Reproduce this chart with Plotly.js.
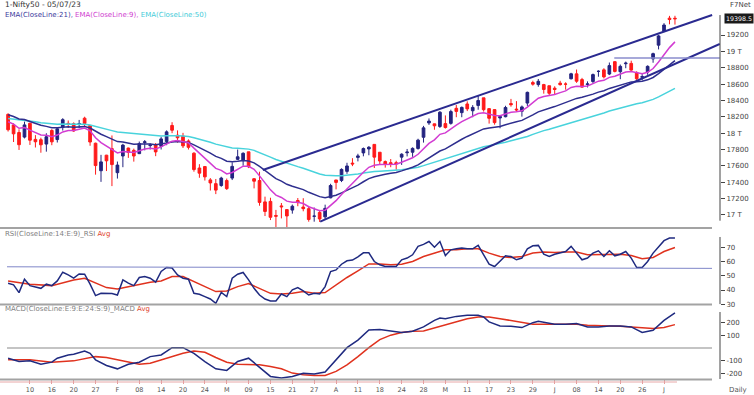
<!DOCTYPE html>
<html>
<head>
<meta charset="utf-8">
<script src="https://cdn.plot.ly/plotly-3.0.1.min.js"></script>
<style>
html,body{margin:0;padding:0;background:#fff;}
#chart{width:754px;height:395px;}
</style>
</head>
<body>
<div id="chart"></div>
<script>
// ---------- DATA ----------
const dates = [
'2023-01-04','2023-01-05','2023-01-06','2023-01-09','2023-01-10','2023-01-11','2023-01-12','2023-01-13','2023-01-16','2023-01-17','2023-01-18','2023-01-19','2023-01-20','2023-01-23','2023-01-24','2023-01-25','2023-01-27','2023-01-30','2023-01-31',
'2023-02-01','2023-02-02','2023-02-03','2023-02-06','2023-02-07','2023-02-08','2023-02-09','2023-02-10','2023-02-13','2023-02-14','2023-02-15','2023-02-16','2023-02-17','2023-02-20','2023-02-21','2023-02-22','2023-02-23','2023-02-24','2023-02-27','2023-02-28',
'2023-03-01','2023-03-02','2023-03-03','2023-03-06','2023-03-08','2023-03-09','2023-03-10','2023-03-13','2023-03-14','2023-03-15','2023-03-16','2023-03-17','2023-03-20','2023-03-21','2023-03-22','2023-03-23','2023-03-24','2023-03-27','2023-03-28','2023-03-29','2023-03-31',
'2023-04-03','2023-04-05','2023-04-06','2023-04-10','2023-04-11','2023-04-12','2023-04-13','2023-04-17','2023-04-18','2023-04-19','2023-04-20','2023-04-21','2023-04-24','2023-04-25','2023-04-26','2023-04-27','2023-04-28',
'2023-05-02','2023-05-03','2023-05-04','2023-05-05','2023-05-08','2023-05-09','2023-05-10','2023-05-11','2023-05-12','2023-05-15','2023-05-16','2023-05-17','2023-05-18','2023-05-19','2023-05-22','2023-05-23','2023-05-24','2023-05-25','2023-05-26','2023-05-29','2023-05-30','2023-05-31',
'2023-06-01','2023-06-02','2023-06-05','2023-06-06','2023-06-07','2023-06-08','2023-06-09','2023-06-12','2023-06-13','2023-06-14','2023-06-15','2023-06-16','2023-06-19','2023-06-20','2023-06-21','2023-06-22','2023-06-23','2023-06-26','2023-06-27','2023-06-28','2023-06-30',
'2023-07-03','2023-07-04','2023-07-05'];

const open = [18230,18101,18008,17952,18121,17924,17920,17867,18033,17922,18074,18120,18116,18118,18183,18094,17877,17541,17731,
17811,17517,17721,17818,17790,17750,17885,17848,17859,17840,17897,18094,17975,17965,17905,17755,17574,17592,17429,17383,
17360,17421,17451,17680,17665,17772,17443,17421,17160,17166,16994,17111,17066,17060,17177,17097,17077,16984,17031,16977,17210,
17428,17422,17533,17634,17704,17759,17807,17863,17767,17653,17639,17639,17707,17761,17767,17813,17950,
18125,18114,18082,18117,18120,18304,18251,18357,18274,18339,18432,18300,18288,18186,18201,18362,18294,18268,18368,18619,18594,18594,
18580,18550,18612,18601,18665,18725,18655,18595,18631,18755,18774,18723,18874,18752,18849,18853,18741,18683,18748,18908,19076,
19246,19406,19405];

const high = [18243,18120,18047,18141,18127,17976,17945,17999,18049,18072,18183,18155,18132,18162,18201,18100,17884,17735,17735,
17972,17653,17870,17823,17811,17898,17916,17876,17880,17954,18034,18134,18034,18004,17924,17767,17621,17599,17451,17440,
17467,17445,17644,17800,17766,17772,17451,17529,17224,17211,17062,17146,17066,17127,17207,17205,17110,17091,17062,17126,17381,
17428,17570,17638,17694,17748,17825,17842,17864,17766,17666,17684,17663,17754,17807,17827,17932,18089,
18180,18116,18270,18217,18287,18344,18326,18389,18343,18458,18432,18305,18288,18218,18335,18419,18392,18338,18508,18641,18662,18603,
18580,18573,18640,18622,18738,18778,18676,18633,18729,18769,18794,18864,18881,18839,18875,18886,18757,18722,18829,18984,19202,
19345,19434,19435];

const low = [18020,17892,17795,17936,17856,17825,17761,17774,17853,17886,18032,18063,18016,18063,18078,17846,17493,17405,17537,
17353,17445,17584,17698,17652,17744,17790,17801,17719,17800,17853,18000,17884,17819,17800,17529,17455,17421,17299,17255,
17345,17306,17427,17671,17602,17573,17325,17113,16987,16938,16850,16958,16828,17016,17107,17045,16918,16918,16914,16941,17204,
17313,17402,17503,17597,17655,17717,17730,17574,17611,17579,17584,17553,17612,17716,17711,17798,17885,
18101,18042,18064,18056,18104,18195,18195,18270,18195,18287,18264,18117,18104,18060,18194,18324,18262,18202,18333,18581,18568,18483,
18464,18478,18582,18532,18657,18615,18555,18559,18604,18690,18669,18710,18743,18660,18794,18759,18646,18647,18714,18861,19024,
19235,19331,19327];

const close = [18042,17992,17859,18101,17914,17895,17858,17956,17894,18053,18165,18107,18027,18118,18118,17892,17604,17649,17662,
17616,17610,17854,17764,17721,17872,17894,17856,17771,17930,18016,18036,17944,17845,17827,17555,17511,17466,17392,17304,
17451,17322,17594,17711,17754,17589,17413,17154,17043,16972,16985,17100,16988,17107,17151,17077,16945,16986,16951,17081,17360,
17398,17557,17599,17624,17722,17812,17828,17707,17660,17618,17624,17624,17743,17769,17814,17915,18065,
18148,18090,18256,18069,18264,18266,18315,18297,18315,18399,18287,18182,18129,18203,18314,18348,18285,18321,18499,18599,18634,18534,
18488,18534,18593,18599,18726,18635,18563,18602,18716,18756,18688,18826,18755,18817,18856,18771,18665,18691,18817,18972,19189,
19322,19389,19398.5];

const ema9 = [18140,18110,18060,18068,18037,18009,17979,17974,17958,17977,18015,18033,18032,18049,18063,18029,17944,17885,17840,
17795,17758,17777,17774,17763,17785,17807,17817,17808,17832,17869,17902,17910,17897,17883,17817,17756,17698,17637,17570,
17546,17501,17520,17558,17597,17595,17559,17478,17391,17307,17243,17214,17169,17157,17156,17140,17101,17078,17053,17059,17119,
17175,17251,17321,17382,17450,17522,17583,17608,17618,17618,17619,17620,17645,17670,17699,17742,17807,
17875,17918,17986,18003,18055,18097,18141,18172,18201,18241,18250,18236,18215,18213,18233,18256,18262,18274,18319,18375,18427,18448,
18456,18472,18496,18517,18559,18574,18572,18578,18606,18636,18646,18682,18697,18721,18748,18753,18735,18726,18744,18790,18870,
18960,19046,19116];

const ema21 = [18225,18204,18173,18166,18143,18120,18096,18083,18066,18065,18074,18077,18072,18076,18080,18063,18021,17987,17957,
17926,17897,17893,17881,17866,17867,17869,17868,17859,17865,17879,17893,17898,17893,17887,17857,17826,17793,17757,17716,
17692,17658,17652,17657,17666,17659,17637,17593,17543,17491,17445,17414,17375,17351,17333,17310,17277,17251,17224,17211,17225,
17241,17270,17300,17329,17365,17406,17444,17468,17485,17497,17509,17519,17539,17560,17583,17613,17654,
17699,17735,17782,17808,17849,17887,17926,17960,17992,18029,18052,18064,18070,18082,18103,18125,18140,18156,18187,18224,18261,18286,
18304,18325,18349,18372,18404,18425,18438,18453,18477,18502,18519,18547,18566,18589,18613,18627,18630,18636,18652,18681,18727,
18781,18836,18887];

const ema50 = [18180,18173,18161,18159,18149,18139,18128,18121,18112,18110,18112,18112,18109,18109,18109,18100,18081,18064,18048,
18031,18015,18009,17999,17988,17983,17980,17975,17967,17966,17968,17971,17970,17965,17960,17944,17927,17909,17889,17866,
17850,17829,17820,17816,17814,17805,17790,17765,17737,17707,17679,17656,17630,17609,17591,17571,17546,17524,17502,17486,17481,
17478,17481,17486,17491,17500,17512,17524,17531,17536,17539,17542,17545,17553,17561,17571,17584,17603,
17624,17642,17666,17682,17705,17727,17750,17771,17792,17816,17834,17848,17859,17872,17889,17907,17922,17938,17960,17985,18010,18031,
18049,18068,18089,18109,18133,18153,18169,18186,18207,18229,18247,18270,18289,18310,18331,18348,18360,18373,18390,18413,18443,
18477,18513,18548];

const rsi = [44.8,43.6,38.2,47.6,43.1,42.4,41.2,44.1,43.1,46.4,52.5,50.6,48.3,51.3,51.1,44.1,36.1,37.7,37.5,37.5,
36.5,47.1,44.8,43.1,48.8,49.5,48.3,45.5,53.0,55.8,55.4,50.6,48.3,47.6,37.7,37.0,35.4,33.7,30.7,38.4,
35.4,48.3,51.1,52.3,47.1,41.2,36.5,33.7,32.3,32.3,37.2,35.4,40.1,41.7,39.4,36.5,37.7,37.2,42.4,53.0,
54.1,58.1,60.5,61.0,63.3,66.1,66.1,60.0,57.7,56.5,56.5,56.5,61.2,62.4,64.7,70.6,72.0,74.0,70.0,74.0,
64.2,68.2,68.9,69.4,68.9,68.9,71.3,64.7,58.1,56.5,60.5,64.0,63.5,61.2,62.4,68.9,71.0,71.3,65.1,63.5,
65.1,65.9,67.0,70.6,65.9,61.2,62.4,65.9,67.5,63.5,67.5,64.0,65.1,67.0,62.4,55.8,55.8,60.0,65.9,70.6,
74.6,76.5,76.5];

const rsiAvgIdx = [0,4,8,12,14,16,18,20,22,24,26,28,30,32,34,36,38,40,42,44,46,48,50,52,54,56,58,60,62,64,66,68,70,72,74,76,78,80,82,84,86,88,90,92,94,96,98,100,102,104,106,108,110,112,114,116,118,120,122];
const rsiAvg = [46.4,44.1,43.1,47.1,48.3,44.8,41.7,40.8,42.4,43.6,45.5,46.4,49.5,49.5,46.0,42.4,38.9,39.4,42.4,44.5,41.2,37.7,37.2,37.7,38.9,37.7,38.2,43.6,48.8,53.5,58.3,58.3,57.7,58.1,60.0,63.5,65.9,68.2,68.2,68.9,68.9,65.9,63.5,62.8,63.5,65.9,66.6,66.3,66.6,66.6,64.7,64.7,65.1,65.1,64.2,61.9,62.8,67.0,69.8];

const macdIdx = [0,2,4,6,8,9,11,12,14,15,16,18,20,22,24,26,28,30,32,34,36,38,40,42,44,46,48,50,52,54,56,58,60,62,64,66,68,70,72,74,76,78,79,80,82,84,86,87,88,90,92,94,96,97,100,102,104,106,108,110,112,114,116,118,120,122];
const macd = [-79,-105,-100,-126,-110,-79,-54,-49,-23,-41,-92,-136,-162,-126,-110,-67,-54,3,3,-41,-105,-162,-174,-105,-79,-151,-221,-233,-221,-197,-203,-187,-92,3,62,140,144,131,121,131,164,215,233,228,246,254,254,241,203,172,169,159,197,208,185,185,190,164,164,172,172,164,121,138,215,274];

const signalIdx = [0,4,8,12,16,18,20,24,26,30,32,34,36,38,40,42,44,46,48,50,52,54,56,58,60,62,64,66,68,70,72,74,76,78,80,82,84,86,88,90,92,94,96,98,100,102,104,106,108,110,112,114,116,118,120,122];
const signal = [-92,-92,-110,-100,-67,-74,-92,-126,-118,-67,-41,-23,-33,-74,-110,-126,-126,-131,-144,-162,-195,-208,-213,-213,-182,-131,-67,3,65,100,121,131,133,156,182,208,228,241,241,228,215,197,185,185,185,190,185,177,177,172,169,164,156,151,159,182];

// drawn trend lines (bar index, price)
const upperChannelX = [46.6, 128.8];
const upperChannelY = [17550, 19444];
const lowerChannelX = [57.1, 130.2];
const lowerChannelY = [16918, 19090];
const resistanceX = [110.9, 130.2];
const resistanceY = [18920, 18920];

const tickIdx = [4,8,12,16,20,24,28,32,36,40,44,48,52,56,60,64,68,72,76,80,84,88,92,96,100,104,108,112,116,120];
const tickLabels = ['10','16','20','27','F','08','14','20','24','M','09','15','21','27','A','11','18','24','28','M','11','17','23','29','J','08','14','20','26','J'];

const priceTicks = [17000,17200,17400,17600,17800,18000,18200,18400,18600,18800,19000,19200];
const priceTickText = ['17 T','17200','17400','17600','17800','18 T','18200','18400','18600','18800','19 T','19200'];
const rsiTicks = [30,40,50,60,70];
const macdTicks = [-200,-100,100,200];

// ---------- CHART ----------
const idx = dates.map((d, i) => i);
const NAVY = '#23237f', RED = '#ff1a1a';

const traces = [
  {type:'scatter', mode:'lines', x: idx, y: ema50, yaxis:'y', line:{color:'#48d3dc', width:1.5}, hoverinfo:'skip'},
  {type:'scatter', mode:'lines', x: idx, y: ema21, yaxis:'y', line:{color:'#2e2e8e', width:1.5}, hoverinfo:'skip'},
  {type:'scatter', mode:'lines', x: idx, y: ema9, yaxis:'y', line:{color:'#d23cd2', width:1.5}, hoverinfo:'skip'},
  {type:'candlestick', x: idx, open: open, high: high, low: low, close: close, yaxis:'y', whiskerwidth:0,
   increasing:{line:{color:NAVY, width:1}, fillcolor:NAVY},
   decreasing:{line:{color:RED, width:1}, fillcolor:RED}, hoverinfo:'skip'},
  {type:'scatter', mode:'lines', x: upperChannelX, y: upperChannelY, yaxis:'y', line:{color:'#2a2a90', width:2}, hoverinfo:'skip'},
  {type:'scatter', mode:'lines', x: lowerChannelX, y: lowerChannelY, yaxis:'y', line:{color:'#2a2a90', width:2}, hoverinfo:'skip'},
  {type:'scatter', mode:'lines', x: resistanceX, y: resistanceY, yaxis:'y', line:{color:'#8a8ccc', width:1.5}, hoverinfo:'skip'},
  {type:'scatter', mode:'lines', x: rsiAvgIdx, y: rsiAvg, yaxis:'y2', line:{color:'#e0321e', width:1.5}, hoverinfo:'skip'},
  {type:'scatter', mode:'lines', x: idx, y: rsi, yaxis:'y2', line:{color:'#1f2a80', width:1.5}, hoverinfo:'skip'},
  {type:'scatter', mode:'lines', x: signalIdx, y: signal, yaxis:'y3', line:{color:'#e0321e', width:1.5}, hoverinfo:'skip'},
  {type:'scatter', mode:'lines', x: macdIdx, y: macd, yaxis:'y3', line:{color:'#1f2a80', width:1.5}, hoverinfo:'skip'}
];

const FONT = 'DejaVu Sans, Verdana, sans-serif';
const yCommon = {side:'right', ticks:'outside', ticklen:4, tickcolor:'#444', tickwidth:1,
  showgrid:false, zeroline:false, showline:false, fixedrange:true,
  tickfont:{family:FONT, size:7, color:'#444'}};

const H = 379; // plot height in px
const py = p => (H - p) / H;   // pixel row -> paper y
const W = 720;
const px = p => p / W;         // pixel col -> paper x

const layout = {
  width:754, height:395,
  margin:{l:0, r:34, t:0, b:16},
  paper_bgcolor:'#ffffff', plot_bgcolor:'#ffffff',
  showlegend:false,
  font:{family:FONT, size:7, color:'#444'},
  xaxis:{range:[-1.48, 130.24], tickmode:'array', tickvals:tickIdx, ticktext:tickLabels,
    ticks:'outside', ticklen:4, tickcolor:'#e39a9a', showgrid:false, zeroline:false, showline:false,
    rangeslider:{visible:false}, anchor:'y3', fixedrange:true,
    tickfont:{family:FONT, size:6.5, color:'#555'}},
  yaxis: Object.assign({}, yCommon, {domain:[py(227), 1], range:[16853, 19628],
    tickmode:'array', tickvals:priceTicks, ticktext:priceTickText}),
  yaxis2: Object.assign({}, yCommon, {domain:[py(304.3), py(229)], range:[30, 82.8],
    tickmode:'array', tickvals:rsiTicks, ticktext:rsiTicks.map(String)}),
  yaxis3: Object.assign({}, yCommon, {domain:[0, py(305)], range:[-241, 334.6],
    tickmode:'array', tickvals:macdTicks, ticktext:macdTicks.map(String)}),
  shapes:[
    // axis lines (right)
    {type:'line', xref:'paper', yref:'y', x0:1, x1:1, y0:16930, y1:19444, line:{color:'#444', width:1}},
    {type:'line', xref:'paper', yref:'y2', x0:1, x1:1, y0:30, y1:77.2, line:{color:'#444', width:1}},
    {type:'line', xref:'paper', yref:'y3', x0:1, x1:1, y0:-241, y1:280, line:{color:'#444', width:1}},
    // panel separators
    {type:'line', xref:'paper', yref:'paper', x0:0, x1:px(712), y0:py(228), y1:py(228), line:{color:'#a3a3a3', width:2}},
    {type:'line', xref:'paper', yref:'paper', x0:0, x1:px(712), y0:py(304.5), y1:py(304.5), line:{color:'#a3a3a3', width:2}},
    {type:'line', xref:'paper', yref:'paper', x0:0, x1:px(712), y0:py(379.5), y1:py(379.5), line:{color:'#a3a3a3', width:2}},
    {type:'line', xref:'paper', yref:'paper', x0:0, x1:px(677), y0:py(382), y1:py(382), line:{color:'#e8a8a8', width:1}},
    // RSI reference line & MACD zero line
    {type:'line', xref:'paper', yref:'y2', x0:px(7), x1:px(712), y0:56.3, y1:55.2, line:{color:'#7f86c8', width:1}},
    {type:'line', xref:'paper', yref:'y3', x0:px(7), x1:px(712), y0:0, y1:0, line:{color:'#8a8a8a', width:1.2}}
  ],
  annotations:[
    {xref:'paper', yref:'paper', x:px(3), y:py(5), xanchor:'left', yanchor:'middle', showarrow:false,
     text:'1-Nifty50 - 05/07/23', font:{family:FONT, size:7.5, color:'#333'}},
    {xref:'paper', yref:'paper', x:px(3), y:py(15.5), xanchor:'left', yanchor:'middle', showarrow:false,
     text:'<span style="color:#3a3a9c">EMA(CloseLine:21),</span> <span style="color:#d040d0">EMA(CloseLine:9),</span> <span style="color:#45ccd8">EMA(CloseLine:50)</span>',
     font:{family:FONT, size:7, color:'#333'}},
    {xref:'paper', yref:'paper', x:px(3), y:py(233.5), xanchor:'left', yanchor:'middle', showarrow:false,
     text:'<span style="color:#808080">RSI(CloseLine:14:E:9)_RSI</span> <span style="color:#e0442c">Avg</span>',
     font:{family:FONT, size:7, color:'#808080'}},
    {xref:'paper', yref:'paper', x:px(3), y:py(308.5), xanchor:'left', yanchor:'middle', showarrow:false,
     text:'<span style="color:#808080">MACD(CloseLine:E:9:E:24:S:9)_MACD</span> <span style="color:#e0442c">Avg</span>',
     font:{family:FONT, size:7, color:'#808080'}},
    {xref:'paper', yref:'paper', x:px(741), y:py(5), xanchor:'center', yanchor:'middle', showarrow:false,
     text:'F7Net', font:{family:FONT, size:7, color:'#444'}},
    {xref:'paper', yref:'paper', x:px(738), y:py(390), xanchor:'center', yanchor:'middle', showarrow:false,
     text:'Daily', font:{family:FONT, size:7, color:'#555'}},
    {xref:'paper', yref:'y', x:px(754), y:close[close.length-1], xanchor:'right', yanchor:'middle', showarrow:false,
     text:String(close[close.length-1]), bgcolor:'#1a1a1a', borderpad:1,
     font:{family:FONT, size:6.3, color:'#ffffff'}}
  ]
};

Plotly.newPlot('chart', traces, layout, {displayModeBar:false, staticPlot:true});
</script>
</body>
</html>
